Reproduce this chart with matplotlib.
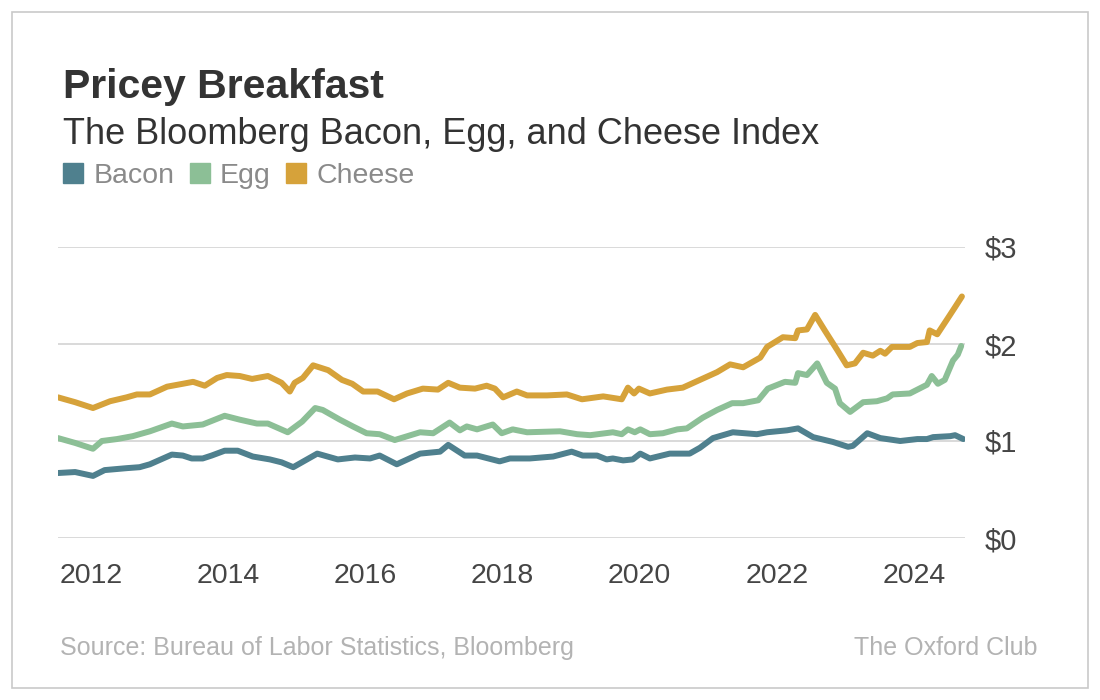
import matplotlib
matplotlib.use("Agg")
import matplotlib.pyplot as plt
from matplotlib.lines import Line2D
from matplotlib.patches import Rectangle

## data (decimal year, dollars)
bacon_years = [2011.52, 2011.77, 2012.03, 2012.20, 2012.52, 2012.71, 2012.86, 2013.18, 2013.34,
               2013.47, 2013.63, 2013.76, 2013.95, 2014.14, 2014.36, 2014.61, 2014.78, 2014.95,
               2015.30, 2015.60, 2015.85, 2016.07, 2016.21, 2016.46, 2016.80, 2017.09, 2017.21,
               2017.45, 2017.63, 2017.96, 2018.11, 2018.40, 2018.74, 2019.01, 2019.17, 2019.38,
               2019.52, 2019.61, 2019.76, 2019.90, 2020.01, 2020.15, 2020.44, 2020.73, 2020.88,
               2021.07, 2021.36, 2021.71, 2021.86, 2022.15, 2022.31, 2022.53, 2022.82, 2023.04,
               2023.11, 2023.32, 2023.51, 2023.80, 2024.05, 2024.19, 2024.28, 2024.53, 2024.60,
               2024.72]
bacon_price = [0.67, 0.68, 0.64, 0.70, 0.72, 0.73, 0.76, 0.86, 0.85,
               0.82, 0.82, 0.85, 0.90, 0.90, 0.84, 0.81, 0.78, 0.73,
               0.87, 0.81, 0.83, 0.82, 0.85, 0.76, 0.87, 0.89, 0.96,
               0.85, 0.85, 0.79, 0.82, 0.82, 0.84, 0.89, 0.85, 0.85,
               0.81, 0.82, 0.80, 0.81, 0.87, 0.82, 0.87, 0.87, 0.93,
               1.03, 1.09, 1.07, 1.09, 1.11, 1.13, 1.04, 0.99, 0.94,
               0.95, 1.08, 1.03, 1.00, 1.02, 1.02, 1.04, 1.05, 1.06,
               1.02]

egg_years = [2011.52, 2011.77, 2012.03, 2012.16, 2012.38, 2012.61, 2012.86, 2013.18, 2013.34,
             2013.63, 2013.95, 2014.17, 2014.42, 2014.58, 2014.87, 2015.08, 2015.27, 2015.38,
             2015.63, 2015.82, 2016.02, 2016.21, 2016.43, 2016.80, 2016.99, 2017.23, 2017.38,
             2017.48, 2017.63, 2017.86, 2017.99, 2018.15, 2018.36, 2018.84, 2019.09, 2019.28,
             2019.61, 2019.74, 2019.83, 2019.93, 2020.01, 2020.15, 2020.34, 2020.55, 2020.69,
             2020.92, 2021.13, 2021.35, 2021.51, 2021.73, 2021.87, 2022.12, 2022.27, 2022.31,
             2022.44, 2022.59, 2022.73, 2022.85, 2022.92, 2023.07, 2023.26, 2023.46, 2023.61,
             2023.69, 2023.94, 2024.19, 2024.26, 2024.35, 2024.45, 2024.57, 2024.64, 2024.69]
egg_price = [1.03, 0.98, 0.92, 1.00, 1.02, 1.05, 1.10, 1.18, 1.15,
             1.17, 1.26, 1.22, 1.18, 1.18, 1.09, 1.20, 1.34, 1.32,
             1.22, 1.15, 1.08, 1.07, 1.01, 1.09, 1.08, 1.19, 1.11,
             1.15, 1.12, 1.17, 1.08, 1.12, 1.09, 1.10, 1.07, 1.06,
             1.09, 1.07, 1.12, 1.09, 1.12, 1.07, 1.08, 1.12, 1.13,
             1.24, 1.32, 1.39, 1.39, 1.42, 1.54, 1.61, 1.60, 1.70,
             1.68, 1.80, 1.60, 1.54, 1.39, 1.30, 1.40, 1.41, 1.44,
             1.48, 1.49, 1.58, 1.67, 1.59, 1.63, 1.83, 1.89, 1.98]

cheese_years = [2011.52, 2011.77, 2012.03, 2012.28, 2012.52, 2012.67, 2012.86, 2013.11, 2013.34,
                2013.49, 2013.66, 2013.84, 2013.98, 2014.17, 2014.35, 2014.58, 2014.78, 2014.90,
                2014.97, 2015.09, 2015.24, 2015.46, 2015.66, 2015.81, 2015.97, 2016.18, 2016.42,
                2016.61, 2016.84, 2017.06, 2017.21, 2017.38, 2017.60, 2017.77, 2017.89, 2018.01,
                2018.21, 2018.36, 2018.65, 2018.94, 2019.16, 2019.47, 2019.74, 2019.83, 2019.92,
                2019.99, 2020.15, 2020.40, 2020.63, 2020.88, 2021.13, 2021.32, 2021.51, 2021.76,
                2021.86, 2022.09, 2022.27, 2022.31, 2022.44, 2022.56, 2022.70, 2022.88, 2023.02,
                2023.14, 2023.26, 2023.40, 2023.51, 2023.58, 2023.68, 2023.94, 2024.05, 2024.19,
                2024.23, 2024.34, 2024.48, 2024.60, 2024.70]
cheese_price = [1.45, 1.40, 1.34, 1.41, 1.45, 1.48, 1.48, 1.56, 1.59,
                1.61, 1.57, 1.65, 1.68, 1.67, 1.64, 1.67, 1.60, 1.51,
                1.60, 1.65, 1.78, 1.73, 1.63, 1.59, 1.51, 1.51, 1.43,
                1.49, 1.54, 1.53, 1.60, 1.55, 1.54, 1.57, 1.54, 1.45,
                1.51, 1.47, 1.47, 1.48, 1.43, 1.46, 1.43, 1.55, 1.49,
                1.54, 1.49, 1.53, 1.55, 1.63, 1.71, 1.79, 1.76, 1.86,
                1.97, 2.07, 2.06, 2.14, 2.15, 2.30, 2.14, 1.94, 1.78,
                1.80, 1.91, 1.88, 1.93, 1.90, 1.97, 1.97, 2.01, 2.02,
                2.14, 2.10, 2.25, 2.38, 2.49]

series_names = ["Bacon", "Egg", "Cheese"]
series_colors = ["#4f808e", "#8cbf96", "#d6a23a"]
year_ticks = [2012, 2014, 2016, 2018, 2020, 2022, 2024]
dollar_ticks = [0, 1, 2, 3]

plt.rcParams['font.family'] = ['Liberation Sans', 'DejaVu Sans']

fig = plt.figure(figsize=(11, 7), dpi=100)
W, H = 1100.0, 700.0

## thin frame round the whole card
fig.patches.append(Rectangle((12 / W, 1 - 688 / H), 1076 / W, 676 / H, transform=fig.transFigure,
                             fill=False, edgecolor="#c9c9c9", linewidth=1.2))

ax = fig.add_axes([58 / W, 1 - 538 / H, (965 - 58) / W, (538 - 247) / H])

data = [(bacon_years, bacon_price), (egg_years, egg_price), (cheese_years, cheese_price)]
for (xs, ys), name, col in zip(data, series_names, series_colors):
    ax.plot(xs, ys, color=col, lw=4.3, solid_joinstyle="round", solid_capstyle="round",
            label=name, zorder=3)

ax.set_xlim(2011.52, 2024.745)
ax.set_ylim(0, 3)
for s in ax.spines.values():
    s.set_visible(False)

ax.set_yticks(dollar_ticks)
ax.set_yticklabels(["$%d" % v for v in dollar_ticks])
ax.yaxis.tick_right()
ax.grid(axis="y", color="#cfcfcf", lw=1.1, zorder=1)
ax.set_xticks(year_ticks)
ax.set_xticklabels([str(y) for y in year_ticks])
ax.tick_params(axis="y", length=0, pad=14, labelsize=21, labelcolor="#454545")
ax.tick_params(axis="x", length=0, pad=18, labelsize=20.5, labelcolor="#454545")

## titles
fig.text(63 / W, 1 - 87 / H, "Pricey Breakfast", fontsize=29.5, fontweight="bold",
         color="#333333", va="center", ha="left")
fig.text(63 / W, 1 - 134 / H, "The Bloomberg Bacon, Egg, and Cheese Index", fontsize=26,
         color="#333333", va="center", ha="left")

## legend with square keys
handles = [Line2D([], [], ls="none", marker="s", markersize=14.5, color=c) for c in series_colors]
leg = fig.legend(handles, series_names, loc="center left", bbox_to_anchor=(59 / W, 1 - 176 / H),
                 ncol=3, frameon=False, fontsize=20.5, handlelength=1.0, handletextpad=0.2,
                 columnspacing=0.4, borderpad=0, borderaxespad=0)
for t in leg.get_texts():
    t.set_color("#8a8a8a")

## footer
fig.text(60 / W, 1 - 648 / H, "Source: Bureau of Labor Statistics, Bloomberg", fontsize=18,
         color="#b3b3b3", va="center", ha="left")
fig.text(1037 / W, 1 - 648 / H, "The Oxford Club", fontsize=18, color="#b3b3b3",
         va="center", ha="right")

fig.savefig("out.png", dpi=100)
